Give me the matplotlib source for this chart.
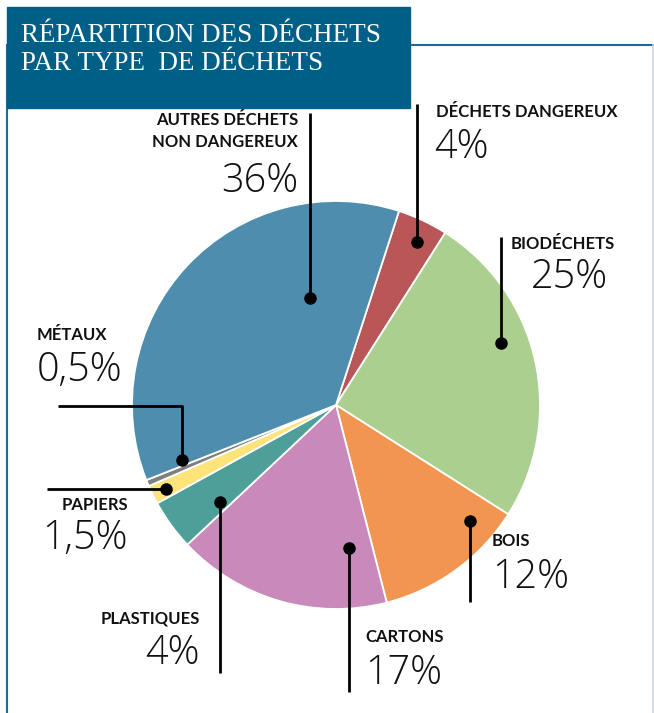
import matplotlib.pyplot as plt
from matplotlib.patches import Rectangle

# Data (clockwise from the top-right)
categories = ['DÉCHETS DANGEREUX', 'BIODÉCHETS', 'BOIS', 'CARTONS',
              'PLASTIQUES', 'PAPIERS', 'MÉTAUX', 'AUTRES DÉCHETS\nNON DANGEREUX']
values = [4, 25, 12, 17, 4, 1.5, 0.5, 36]
pct_labels = ['4%', '25%', '12%', '17%', '4%', '1,5%', '0,5%', '36%']
colors = ['#b85658', '#abcf8e', '#f29551', '#c98abb',
          '#4e9f99', '#fce47b', '#7f7f7f', '#4e8dad']

W, H = 654, 713
fig = plt.figure(figsize=(W / 100, H / 100), dpi=100)
ax = fig.add_axes([0, 0, 1, 1])

# y axis is inverted (pixel-like coords), so counterclock=True draws clockwise on screen
ax.pie(values, colors=colors, startangle=-72, counterclock=True,
       center=(336, 405), radius=204,
       wedgeprops=dict(edgecolor='white', linewidth=1.3))
ax.set_xlim(0, W)
ax.set_ylim(H, 0)
ax.set_aspect('equal')
ax.axis('off')

# frame
blue = '#1f6a98'
ax.plot([7, 7], [45, H], color=blue, lw=1.5)
ax.plot([410, 653], [45, 45], color=blue, lw=1.5)
ax.plot([653, 653], [45, H], color='#c9d5de', lw=1.2)

# title box
ax.add_patch(Rectangle((7, 7), 403, 101, color='#005f87', zorder=5))
ax.text(21, 35, 'RÉPARTITION DES DÉCHETS', color='white', fontsize=19.5,
        family='Liberation Serif', va='center', ha='left', zorder=6)
ax.text(21, 64, 'PAR TYPE  DE DÉCHETS', color='white', fontsize=19.5,
        family='Liberation Serif', va='center', ha='left', zorder=6)

# leader lines: (xs, ys), dot at the pie end
leaders = [
    ([417, 417], [104, 242]),           # dangereux
    ([501, 501], [237, 343]),           # biodéchets
    ([470, 470], [602, 521]),           # bois
    ([349, 349], [692, 548]),           # cartons
    ([220, 220], [673, 502]),           # plastiques
    ([47, 166], [489, 489]),            # papiers
    ([58, 182, 182], [406, 406, 460]),  # métaux
    ([310, 310], [113, 298]),           # autres
]
for xs, ys in leaders:
    ax.plot(xs, ys, color='black', lw=2, zorder=3, solid_capstyle='butt')
    ax.plot(xs[-1], ys[-1], 'o', color='black', ms=8, zorder=4)

# labels: (name x, name y, pct x, pct y, alignment)
label_pos = [
    (436, 112, 434, 148, 'left', 'left'),
    (511, 244, 608, 277, 'left', 'right'),
    (492, 541, 492, 578, 'left', 'left'),
    (365, 637, 365, 673, 'left', 'left'),
    (200, 619, 200, 654, 'right', 'right'),
    (128, 505, 128, 539, 'right', 'right'),
    (37, 335, 37, 371, 'left', 'left'),
    (298, 131, 298, 181, 'right', 'right'),
]
for name, pct, (nx, ny, px, py, nha, pha) in zip(categories, pct_labels, label_pos):
    ax.text(nx, ny, name, family='Lato', weight='bold', fontsize=12,
            ha=nha, va='center', linespacing=1.45, color='#111111')
    ax.text(px, py, pct, family='Open Sans', weight='light', fontsize=28.5,
            ha=pha, va='center', color='#111111')

fig.savefig('out.png', dpi=100)
